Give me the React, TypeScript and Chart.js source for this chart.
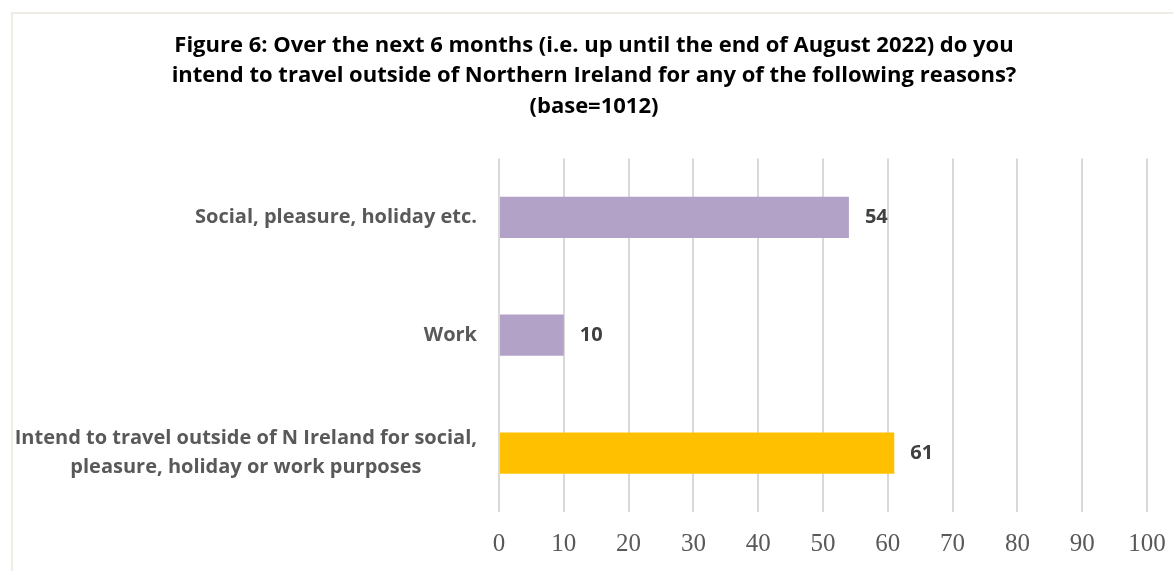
import React, { useEffect, useRef } from "react";
import { Chart, registerables } from "chart.js";

Chart.register(...registerables);

const categories: string[][] = [
  ["Social, pleasure, holiday etc."],
  ["Work"],
  ["Intend to travel outside of N Ireland for social,", "pleasure, holiday or work purposes"],
];
const values: number[] = [54, 10, 61];
const barColors: string[] = ["#b3a2c7", "#b3a2c7", "#ffc000"];
const titleLines: string[] = [
  "Figure 6: Over the next 6 months (i.e. up until the end of August 2022) do you",
  "intend to travel outside of Northern Ireland for any of the following reasons?",
  "(base=1012)",
];
const xMin = 0;
const xMax = 100;
const xStep = 10;

const LABEL_FONT = "bold 20px 'Open Sans'";
const LABEL_RIGHT = 477;

const labelsPlugin = {
  id: "customLabels",
  afterDraw(chart: any) {
    const ctx = chart.ctx;
    const yScale = chart.scales.y;
    ctx.save();
    ctx.font = LABEL_FONT;
    ctx.fillStyle = "#595959";
    ctx.textBaseline = "middle";
    categories.forEach((lines, i) => {
      const cy = yScale.getPixelForValue(i);
      const lh = 29;
      const widths = lines.map((l) => ctx.measureText(l).width);
      const maxW = Math.max(...widths);
      const centerX = LABEL_RIGHT - maxW / 2;
      lines.forEach((l, j) => {
        const y = cy + (j - (lines.length - 1) / 2) * lh;
        if (lines.length === 1) {
          ctx.textAlign = "right";
          ctx.fillText(l, LABEL_RIGHT, y);
        } else {
          ctx.textAlign = "center";
          ctx.fillText(l, centerX, y);
        }
      });
    });
    const meta = chart.getDatasetMeta(0);
    ctx.font = "bold 20px 'Open Sans'";
    ctx.fillStyle = "#404040";
    ctx.textAlign = "left";
    meta.data.forEach((bar: any, i: number) => {
      ctx.fillText(String(values[i]), bar.x + 16, bar.y);
    });
    ctx.restore();
  },
};

export default function App() {
  const ref = useRef<HTMLCanvasElement>(null);
  useEffect(() => {
    if (!ref.current) return;
    const chart = new Chart(ref.current, {
      type: "bar",
      data: {
        labels: categories.map((c) => c.join(" ")),
        datasets: [
          {
            data: values,
            backgroundColor: barColors,
            borderWidth: 0,
            categoryPercentage: 1,
            barPercentage: 0.35,
          },
        ],
      },
      plugins: [labelsPlugin],
      options: {
        indexAxis: "y",
        animation: false,
        responsive: false,
        maintainAspectRatio: false,
        devicePixelRatio: 1,
        layout: { padding: { left: 41, right: 26, top: 0, bottom: 0 } },
        plugins: {
          legend: { display: false },
          tooltip: { enabled: false },
          title: {
            display: true,
            text: titleLines,
            color: "#000000",
            font: { family: "'Open Sans'", size: 22, weight: "bold", lineHeight: 1.37 },
            padding: { top: 31, bottom: 37 },
          },
        },
        scales: {
          x: {
            min: xMin,
            max: xMax,
            ticks: {
              stepSize: xStep,
              color: "#595959",
              font: { family: "Liberation Serif", size: 25 },
              padding: 17,
            },
            grid: { color: "#d9d9d9", lineWidth: 2, drawTicks: false },
            border: { display: false },
            afterFit: (s: any) => {
              s.height = 59;
              s.paddingLeft = 0;
              s.paddingRight = 0;
            },
          },
          y: {
            ticks: { display: false },
            grid: { display: false },
            border: { display: false },
            afterFit: (s: any) => {
              s.width = 499 - 41;
            },
          },
        },
      },
    });
    return () => chart.destroy();
  }, []);
  return (
    <div style={{ position: "absolute", left: 0, top: 0, width: 1173, height: 571, background: "#ffffff" }}>
      <div
        style={{
          position: "absolute",
          left: 11,
          top: 12,
          right: 0,
          bottom: 0,
          borderLeft: "2px solid #efede3",
          borderTop: "2px solid #efede3",
        }}
      />
      <canvas ref={ref} width={1173} height={571} style={{ position: "absolute", left: 0, top: 0 }} />
    </div>
  );
}
